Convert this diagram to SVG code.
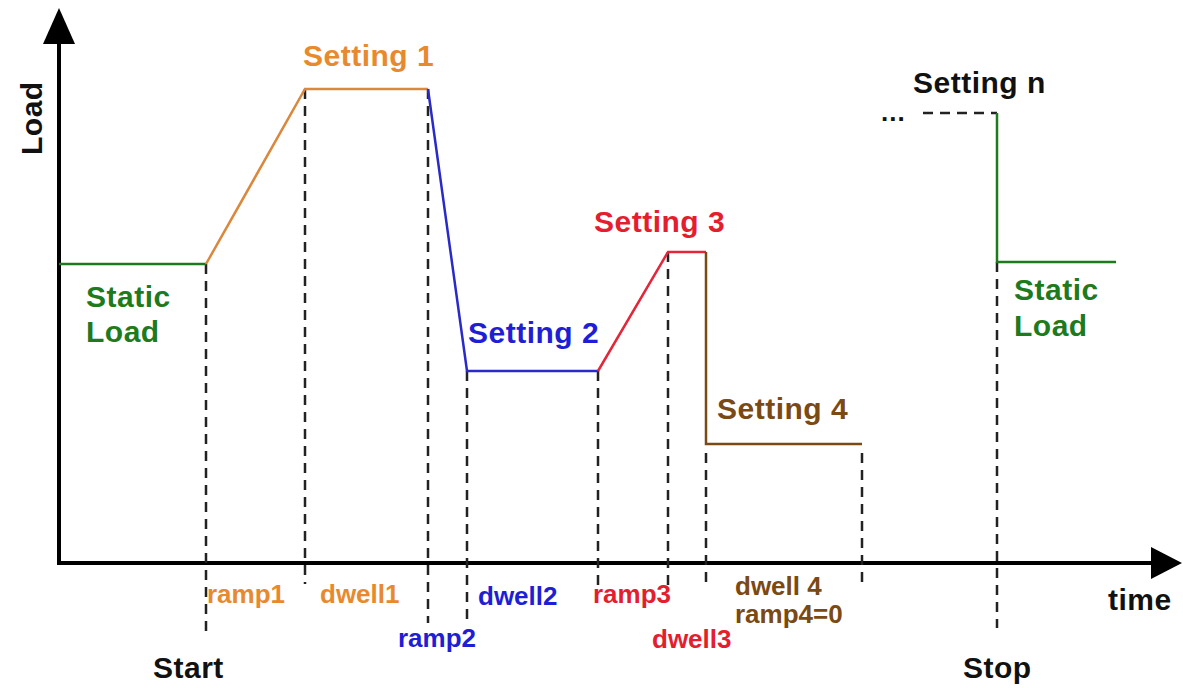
<svg xmlns="http://www.w3.org/2000/svg" width="1183" height="688" viewBox="0 0 1183 688">
<style>
text{font-family:"Liberation Sans",Arial,sans-serif;font-weight:bold}
.big{font-size:30px;letter-spacing:0.5px}
.sm{font-size:26px}
.dash{stroke:#222;stroke-width:2.5;stroke-dasharray:10 7;fill:none}
.seg{stroke-width:2.5;fill:none;stroke-linejoin:miter}
.or{fill:#E8892E}.bl{fill:#1E1ED6}.rd{fill:#E41E2E}.br{fill:#7A4914}.gr{fill:#1D7A1D}.bk{fill:#111}
</style>
<rect width="1183" height="688" fill="#fff"/>
<g id="axes">
<line x1="59" y1="565" x2="59" y2="40" stroke="#000" stroke-width="4"/>
<polygon points="43,44 59,8 75,44" fill="#000"/>
<line x1="57" y1="563" x2="1155" y2="563" stroke="#000" stroke-width="4"/>
<polygon points="1151,547 1182,563 1151,579" fill="#000"/>
<text class="big bk" transform="translate(42,155) rotate(-90)">Load</text>
<text class="big bk" x="1108" y="610">time</text>
</g>
<g id="connectors">
<line class="dash" x1="206" y1="264" x2="206" y2="631"/>
<line class="dash" x1="305" y1="89" x2="305" y2="584"/>
<line class="dash" x1="428" y1="89" x2="428" y2="623"/>
<line class="dash" x1="467" y1="371" x2="467" y2="623"/>
<line class="dash" x1="598" y1="371" x2="598" y2="585"/>
<line class="dash" x1="668" y1="252" x2="668" y2="585"/>
<line class="dash" x1="706" y1="453" x2="706" y2="587"/>
<line class="dash" x1="862" y1="453" x2="862" y2="587"/>
<line class="dash" x1="997" y1="262" x2="997" y2="628"/>
<line class="dash" x1="923" y1="113" x2="997" y2="113"/>
</g>
<g id="static-load-start">
<polyline class="seg" stroke="#1D7A1D" points="59,264 206,264"/>
<text class="big gr" x="86" y="307">Static</text>
<text class="big gr" x="86" y="342">Load</text>
</g>
<g id="setting-1">
<polyline class="seg" stroke="#D9883C" points="206,264 305,89 428,89"/>
<text class="big or" x="303" y="66">Setting 1</text>
<text class="sm or" x="207" y="603">ramp1</text>
<text class="sm or" x="320" y="603">dwell1</text>
</g>
<g id="setting-2">
<polyline class="seg" stroke="#2A2AC8" points="428,89 467,371 598,371"/>
<text class="big bl" x="468" y="343">Setting 2</text>
<text class="sm bl" x="398" y="647">ramp2</text>
<text class="sm bl" x="478" y="605">dwell2</text>
</g>
<g id="setting-3">
<polyline class="seg" stroke="#E3263A" points="598,371 668,252 706,252"/>
<text class="big rd" x="594" y="232">Setting 3</text>
<text class="sm rd" x="593" y="603">ramp3</text>
<text class="sm rd" x="652" y="648">dwell3</text>
</g>
<g id="setting-4">
<polyline class="seg" stroke="#7A4914" points="706,252 706,444 862,444"/>
<text class="big br" x="717" y="419">Setting 4</text>
<text class="sm br" x="735" y="595">dwell 4</text>
<text class="sm br" x="735" y="623">ramp4=0</text>
</g>
<g id="setting-n">
<text class="sm bk" x="881" y="121" letter-spacing="1">...</text>
<text class="big bk" x="913" y="93">Setting n</text>
</g>
<g id="static-load-end">
<polyline class="seg" stroke="#1D7A1D" points="997,113 997,262 1116,262"/>
<text class="big gr" x="1014" y="300">Static</text>
<text class="big gr" x="1014" y="336">Load</text>
</g>
<g id="start">
<text class="big bk" x="153" y="678">Start</text>
</g>
<g id="stop">
<text class="big bk" x="963" y="678">Stop</text>
</g>
</svg>
